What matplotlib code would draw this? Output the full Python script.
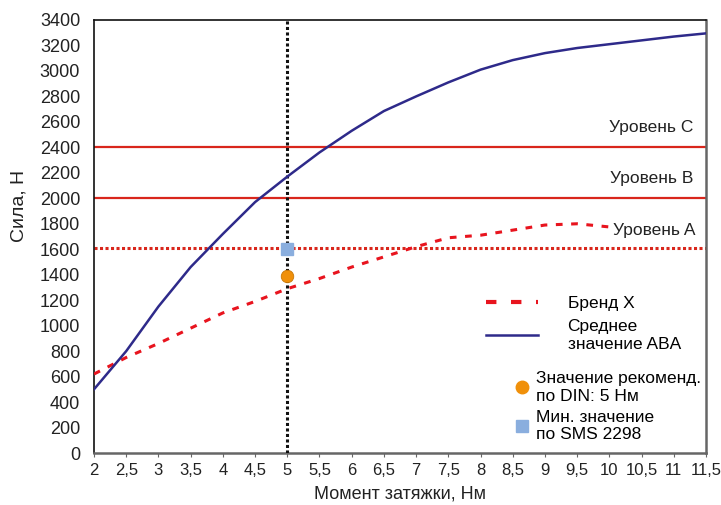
import matplotlib
matplotlib.use("Agg")
import matplotlib.pyplot as plt
from matplotlib.lines import Line2D

plt.rcParams['font.family'] = ['Liberation Sans', 'DejaVu Sans']

torque = [2, 2.5, 3, 3.5, 4, 4.5, 5, 5.5, 6, 6.5, 7, 7.5, 8, 8.5, 9, 9.5, 10, 10.5, 11, 11.5]
aba_mean = [500, 800, 1150, 1460, 1720, 1970, 2170, 2360, 2530, 2685, 2800, 2910, 3010, 3085, 3140, 3180, 3210, 3240, 3270, 3295]
brand_x_torque = [2, 2.5, 3, 3.5, 4, 4.5, 5, 5.5, 6, 6.5, 7, 7.5, 8, 8.5, 9, 9.5, 10]
brand_x = [620, 750, 860, 980, 1100, 1190, 1290, 1370, 1460, 1540, 1620, 1690, 1710, 1750, 1790, 1800, 1775]
level_values = [1610, 2005, 2400]
level_labels = ['Уровень A', 'Уровень B', 'Уровень C']
din_point = (5, 1390)
sms_point = (5, 1600)
xticks = [2, 2.5, 3, 3.5, 4, 4.5, 5, 5.5, 6, 6.5, 7, 7.5, 8, 8.5, 9, 9.5, 10, 10.5, 11, 11.5]
xtick_labels = [('%g' % v).replace('.', ',') for v in xticks]
yticks = list(range(0, 3401, 200))

fig = plt.figure(figsize=(7.21, 5.05), dpi=100)
ax = fig.add_axes([94/721, 1 - 453/505, (706-94)/721, (453-20)/505])

red = '#d9261c'
ax.axhline(level_values[0], color=red, lw=2.2, ls=(0, (1, 0.8)), zorder=2)
ax.axhline(level_values[1], color=red, lw=1.6, zorder=2)
ax.axhline(level_values[2], color=red, lw=1.6, zorder=2)
ax.axvline(5, color='#111111', lw=2.2, ls=(0, (1, 0.8)), zorder=3)

ax.plot(brand_x_torque, brand_x, color='#e8141e', lw=2.2, ls=(0, (2.2, 2.8)), zorder=4)
ax.plot(torque, aba_mean, color='#2e2a8a', lw=1.8, zorder=4)

ax.plot(*din_point, 'o', color='#f0900a', ms=9, mec='#c87808', mew=0.6, zorder=6)
ax.plot(*sms_point, 's', color='#8aaede', ms=8, zorder=5)

fs = 12.5
tc = '#222222'
ax.text(11.3, level_values[2] + 95, level_labels[2], ha='right', va='bottom', fontsize=fs, color=tc)
ax.text(11.3, level_values[1] + 95, level_labels[1], ha='right', va='bottom', fontsize=fs, color=tc)
ax.text(11.33, level_values[0] + 80, level_labels[0], ha='right', va='bottom', fontsize=fs, color=tc,
        bbox=dict(facecolor='white', edgecolor='none', pad=1))

ax.set_xlim(2, 11.5)
ax.set_ylim(0, 3400)
ax.set_xticks(xticks)
ax.set_xticklabels(xtick_labels)
ax.set_yticks(yticks)
ax.tick_params(axis='y', labelsize=13, colors=tc, length=0, pad=10)
ax.tick_params(axis='x', labelsize=12, colors=tc, length=3, pad=4, color='#666666')
ax.set_xlabel('Момент затяжки, Нм', fontsize=13, color=tc)
ax.xaxis.set_label_coords(0.5, -0.074)
ax.set_ylabel('Сила, Н', fontsize=14, color=tc)
ax.yaxis.set_label_coords(-0.108, 0.57)

for s in ['left', 'top']:
    ax.spines[s].set_color('#111111')
    ax.spines[s].set_linewidth(1.2)
for s in ['right', 'bottom']:
    ax.spines[s].set_color('#666666')
    ax.spines[s].set_linewidth(1.8)

h_lines = [Line2D([], [], color='#e8141e', lw=3, ls=(0, (2.5, 3.5))),
           Line2D([], [], color='#2e2a8a', lw=1.8)]
leg1 = ax.legend(h_lines, ['Бренд X', 'Среднее\nзначение ABA'], loc='upper left',
                 bbox_to_anchor=(0.615, 0.40), frameon=False, fontsize=fs,
                 handlelength=3.0, handletextpad=1.7, labelspacing=0.5)
ax.add_artist(leg1)
h_marks = [Line2D([], [], marker='o', ls='none', color='#f0900a', ms=9),
           Line2D([], [], marker='s', ls='none', color='#8aaede', ms=8)]
ax.legend(h_marks, ['Значение рекоменд.\nпо DIN: 5 Нм', 'Мин. значение\nпо SMS 2298'],
          loc='upper left', bbox_to_anchor=(0.66, 0.225), frameon=False, fontsize=fs,
          handlelength=1.0, handletextpad=0.3, labelspacing=0.35)

fig.savefig('out.png', dpi=100)
